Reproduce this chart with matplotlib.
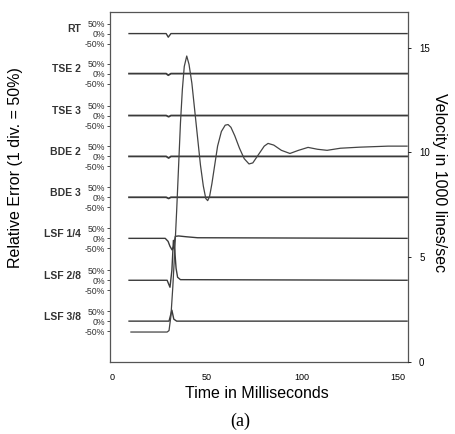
import matplotlib.pyplot as plt
import numpy as np

# Trazas de error relativo (%) por algoritmo y velocidad (1000 lines/sec)
etiquetas = ['RT', 'TSE 2', 'TSE 3', 'BDE 2', 'BDE 3', 'LSF 1/4', 'LSF 2/8', 'LSF 3/8']
centros = [15.67, 13.76, 11.76, 9.81, 7.86, 5.90, 3.90, 1.95]  # posición del 0% en unidades del eje derecho
div_50 = 0.476  # 50% = una división

t_err = [
    [9, 28.5, 29.6, 31, 155],
    [9, 28.5, 29.6, 31, 155],
    [9, 28.5, 29.8, 31, 155],
    [9, 28.5, 29.8, 31, 155],
    [9, 28.5, 29.8, 31, 155],
    [9, 28, 29.5, 30.5, 31.6, 32.4, 33.3, 35, 39, 45, 155],
    [9, 29, 30.5, 31.5, 32.3, 33, 33.7, 34.5, 36, 155],
    [9, 30, 31.5, 32.5, 34, 155],
]
err = [
    [0, 0, -18, 0, 0],
    [0, 0, -8, 0, 0],
    [0, 0, -6, 0, 0],
    [0, 0, -8, 0, 0],
    [0, 0, -6, 0, 0],
    [0, 0, -15, -40, -58, -40, 10, 12, 8, 3, 0],
    [0, 0, -35, 50, 200, 150, 60, 15, 3, 0],
    [0, 0, 55, 10, 0, 0],
]

t_vel = [10, 29, 30, 31, 32, 33, 34, 35, 36, 37, 38, 39.3, 40.5, 42, 43.5, 45, 46.5,
         48, 49.3, 50.3, 51.3, 52.5, 54, 55.5, 57.5, 59.5, 61, 62.5, 64.5, 67, 69.5,
         72, 74, 77, 80, 82, 85, 89, 93.5, 98, 103, 108, 113, 120, 130, 145, 155]
vel = [1.43, 1.43, 1.5, 2.2, 3.6, 5.3, 7.2, 9.3, 11.4, 13.0, 14.1, 14.6, 14.2, 13.3, 12.0,
       10.7, 9.4, 8.4, 7.8, 7.7, 7.9, 8.5, 9.4, 10.3, 11.0, 11.3, 11.33, 11.2, 10.8, 10.2,
       9.7, 9.45, 9.5, 9.9, 10.3, 10.43, 10.35, 10.1, 9.95, 10.1, 10.24, 10.15, 10.1, 10.2,
       10.25, 10.3, 10.3]

x_ticks = [0, 50, 100, 150]
v_ticks = [0, 5, 10, 15]

W, H = 456, 434
fig = plt.figure(figsize=(W / 100, H / 100), dpi=100)
ax = fig.add_axes([110 / W, 1 - 362 / H, 298 / W, 350 / H])

gris = '#3a3a3a'
for i, c in enumerate(centros):
    y = c + np.array(err[i]) / 50.0 * div_50
    lw = 1.3 if 1 <= i <= 4 else 1.0
    ax.plot(t_err[i], y, color=gris, linewidth=lw)

ax.plot(t_vel, vel, color='#444444', linewidth=0.9)

ax.set_xlim(-1, 155.5)
ax.set_ylim(0, 16.7)
ax.set_xticks(x_ticks)
ax.set_xticklabels([str(v) for v in x_ticks], fontsize=6.5, family='Liberation Sans')
ax.tick_params(axis='x', length=0, pad=8)

ticks_izq, labels_izq = [], []
for c in centros:
    ticks_izq += [c + div_50, c, c - div_50]
    labels_izq += ['50%', '0%', '-50%']
ax.set_yticks(ticks_izq)
ax.set_yticklabels(labels_izq, fontsize=6.3, family='Liberation Sans')
ax.tick_params(axis='y', direction='out', length=2, width=0.6, pad=1.5, colors='#333333')

for s in ax.spines.values():
    s.set_color('#555555')
    s.set_linewidth(0.9)

ax2 = ax.twinx()
ax2.set_ylim(ax.get_ylim())
ax2.set_yticks(v_ticks)
ax2.set_yticklabels([str(v) for v in v_ticks], fontsize=7, family='Liberation Sans')
ax2.tick_params(axis='y', length=2, width=0.6, pad=6)
for s in ax2.spines.values():
    s.set_visible(False)

for lab, c in zip(etiquetas, centros):
    ax.text(-0.097, c + 0.2, lab, transform=ax.get_yaxis_transform(), ha='right',
            va='center', fontsize=7.5, fontweight='bold', family='Liberation Sans',
            color='#333333')

fig.text(16 / W, 1 - 168 / H, 'Relative Error (1 div. = 50%)', rotation=90, ha='center',
         va='center', fontsize=11.5, family='Liberation Sans')
fig.text(440 / W, 1 - 183 / H, 'Velocity in 1000 lines/sec', rotation=-90, ha='center',
         va='center', fontsize=11.5, family='Liberation Sans')
fig.text(257 / W, 1 - 393 / H, 'Time in Milliseconds', ha='center', va='center',
         fontsize=11.5, family='Liberation Sans')
fig.text(240 / W, 1 - 421 / H, '(a)', ha='center', va='center', fontsize=13,
         family='Liberation Serif')

fig.savefig('out.png', dpi=100)
plt.close(fig)
